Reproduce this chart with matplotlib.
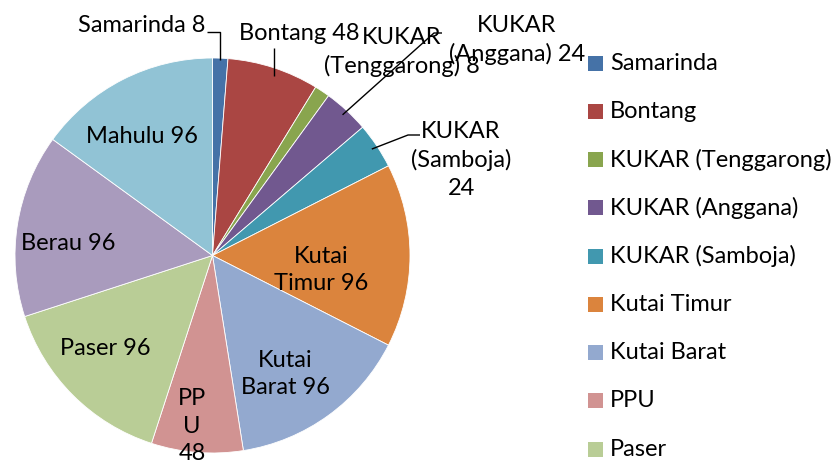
import numpy as np
import matplotlib
matplotlib.use("Agg")
import matplotlib.pyplot as plt
from matplotlib.patches import Rectangle

# ---- data ----
categories = ["Samarinda", "Bontang", "KUKAR (Tenggarong)", "KUKAR (Anggana)",
              "KUKAR (Samboja)", "Kutai Timur", "Kutai Barat", "PPU", "Paser",
              "Berau", "Mahulu"]
values = [8, 48, 8, 24, 24, 96, 96, 48, 96, 96, 96]
label_texts = ["Samarinda 8", "Bontang 48", "KUKAR\n(Tenggarong) 8", "KUKAR\n(Anggana) 24",
               "KUKAR\n(Samboja)\n24", "Kutai\nTimur 96", "Kutai\nBarat 96", "PP\nU\n48",
               "Paser 96", "Berau 96", "Mahulu 96"]
colors = ["#4572A7", "#AA4643", "#89A54E", "#71588F", "#4198AF", "#DB843D",
          "#93A9CF", "#D19392", "#B9CD96", "#A99BBD", "#91C3D5"]

# ---- layout (pixel coords, y from top) ----
W, H = 838, 469
CX, CY, R = 212.5, 255.5, 197.5
label_pos = {
    0: (205, 25, "right"), 1: (299, 33, "center"), 2: (402, 52, "center"),
    3: (517, 40, "center"), 4: (461, 160, "center"), 5: (321, 270, "center"),
    6: (285, 374, "center"), 7: (192, 426, "center"), 8: (105, 348, "center"),
    9: (68, 243, "center"), 10: (142, 136, "center"),
}
leaders = {0: [(220, 32), (207, 32)], 1: [(274, 48)],
           3: [(434, 33), (442, 33)], 4: [(408, 135), (420, 135)]}

FONT = "Lato"
FS = 17

def P(x, y):
    return (x, H - y)

fig = plt.figure(figsize=(W / 100, H / 100), dpi=100)
ax = fig.add_axes([0, 0, 1, 1])
wedges, _ = ax.pie(values, colors=colors, startangle=90, counterclock=False,
                   center=P(CX, CY), radius=R,
                   wedgeprops=dict(edgecolor="white", linewidth=0.6))
ax.set_xlim(0, W)
ax.set_ylim(0, H)
ax.set_aspect("equal")
ax.axis("off")

# labels
for i, txt in enumerate(label_texts):
    x, y, ha = label_pos[i]
    ax.text(*P(x, y), txt, ha=ha, va="center", fontsize=FS, family=FONT,
            color="black", linespacing=1.4, multialignment="center")

# leader lines from wedge mid-angle on the rim
for i, pts in leaders.items():
    w = wedges[i]
    mid = np.deg2rad((w.theta1 + w.theta2) / 2)
    rr = R * 0.97 if i != 1 else R
    ex, ey = w.center[0] + rr * np.cos(mid), w.center[1] + rr * np.sin(mid)
    if i in (0, 1):
        ex = pts[0][0]
        ey = H - 76 if i == 1 else H - 60
    xs = [ex] + [p[0] for p in pts]
    ys = [ey] + [H - p[1] for p in pts]
    ax.plot(xs, ys, color="black", lw=1.0, solid_capstyle="butt")

# legend (clipped at bottom like the reference)
LX, LY0, STEP, SQ = 588, 63, 48.25, 15
for i, (name, col) in enumerate(zip(categories, colors)):
    y = LY0 + i * STEP
    ax.add_patch(Rectangle(P(LX, y + SQ / 2), SQ, SQ, facecolor=col, edgecolor="none"))
    ax.text(*P(LX + 22, y), name, ha="left", va="center", fontsize=FS, family=FONT)

fig.savefig("out.png", dpi=100)
